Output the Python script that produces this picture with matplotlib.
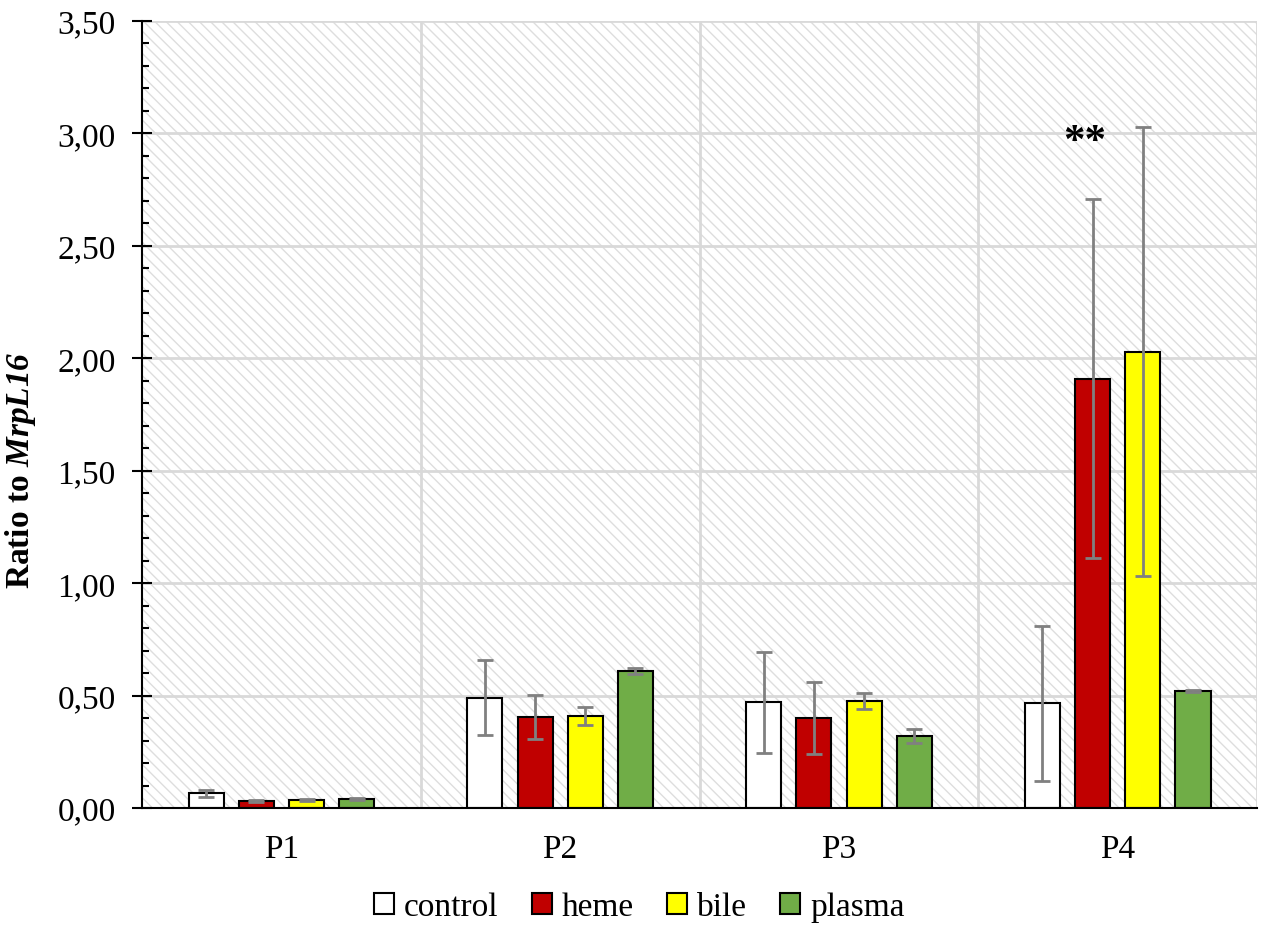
import numpy as np
import matplotlib
matplotlib.use("Agg")
import matplotlib.pyplot as plt
from matplotlib.patches import Rectangle
from matplotlib.ticker import MultipleLocator, FuncFormatter, FixedLocator

plt.rcParams['font.family'] = ['Liberation Serif', 'DejaVu Serif']
plt.rcParams['mathtext.fontset'] = 'custom'
plt.rcParams['mathtext.rm'] = 'Liberation Serif:italic:bold'
plt.rcParams['mathtext.it'] = 'Liberation Serif:italic:bold'
plt.rcParams['hatch.linewidth'] = 1.0

categories = ["P1", "P2", "P3", "P4"]
series = ["control", "heme", "bile", "plasma"]
colors = ["#ffffff", "#c00000", "#ffff00", "#70ad47"]

control = [0.065, 0.49, 0.47, 0.465]
heme = [0.032, 0.405, 0.40, 1.91]
bile = [0.035, 0.41, 0.475, 2.03]
plasma = [0.040, 0.61, 0.32, 0.52]

control_err = [0.015, 0.167, 0.225, 0.345]
heme_err = [0.005, 0.098, 0.16, 0.80]
bile_err = [0.005, 0.04, 0.035, 1.00]
plasma_err = [0.005, 0.012, 0.03, 0.005]

values = [control, heme, bile, plasma]
errors = [control_err, heme_err, bile_err, plasma_err]

fig = plt.figure(figsize=(12.66, 9.28), dpi=100)
ax = fig.add_axes([0.1122, 0.1282, 0.8808, 0.8481])

# hatched plot-area background
bg = Rectangle((0, 0), 1, 1, transform=ax.transAxes, facecolor="white",
               edgecolor="#dedede", linewidth=0, hatch="\\\\\\", zorder=0)
ax.add_patch(bg)

x = np.arange(len(categories))
width = 0.126
offsets = [-0.27, -0.09, 0.09, 0.27]
for vals, errs, col, off, name in zip(values, errors, colors, offsets, series):
    ax.bar(x + off, vals, width, color=col, edgecolor="black", linewidth=1.5,
           label=name, zorder=3)
    ax.errorbar(x + off, vals, yerr=errs, fmt="none", ecolor="#808080",
                elinewidth=2, capsize=6, capthick=2, zorder=4)

ax.text(x[3] - 0.12, 2.96, "**", ha="center", va="center", fontsize=31,
        fontweight="bold", zorder=5)

ax.set_xlim(-0.5, 3.5)
ax.set_ylim(0, 3.5)

ax.set_xticks(x)
ax.set_xticklabels(categories, fontsize=24)
ax.xaxis.set_minor_locator(FixedLocator([0.5, 1.5, 2.5, 3.5]))
ax.tick_params(axis="x", which="both", length=0, pad=18)

ax.yaxis.set_major_locator(MultipleLocator(0.5))
ax.yaxis.set_minor_locator(MultipleLocator(0.1))
ax.yaxis.set_major_formatter(FuncFormatter(lambda v, p: f"{v:.2f}".replace(".", ",")))
ax.tick_params(axis="y", which="major", direction="inout", length=14, width=1.5,
               labelsize=24, pad=12)
ax.tick_params(axis="y", which="minor", direction="in", length=5, width=1.5)

ax.grid(True, axis="y", which="major", color="#d9d9d9", linewidth=2, zorder=1)
ax.grid(True, axis="x", which="minor", color="#d9d9d9", linewidth=2, zorder=1)
ax.set_axisbelow(True)

for s in ["top", "right"]:
    ax.spines[s].set_visible(False)
ax.spines["left"].set_linewidth(1.5)
ax.spines["bottom"].set_linewidth(1.5)
ax.spines["left"].set_zorder(6)
ax.spines["bottom"].set_zorder(6)

ax.set_ylabel(r"Ratio to $\mathit{MrpL16}$", fontsize=24, fontweight="bold")
ax.yaxis.set_label_coords(-0.0935, 0.431)

fig.legend(loc="center", bbox_to_anchor=(0.505, 0.022), ncol=4, frameon=False,
           fontsize=24, handlelength=0.6, handleheight=0.6, handletextpad=0.3,
           columnspacing=1.0)

fig.savefig("out.png", dpi=100)
